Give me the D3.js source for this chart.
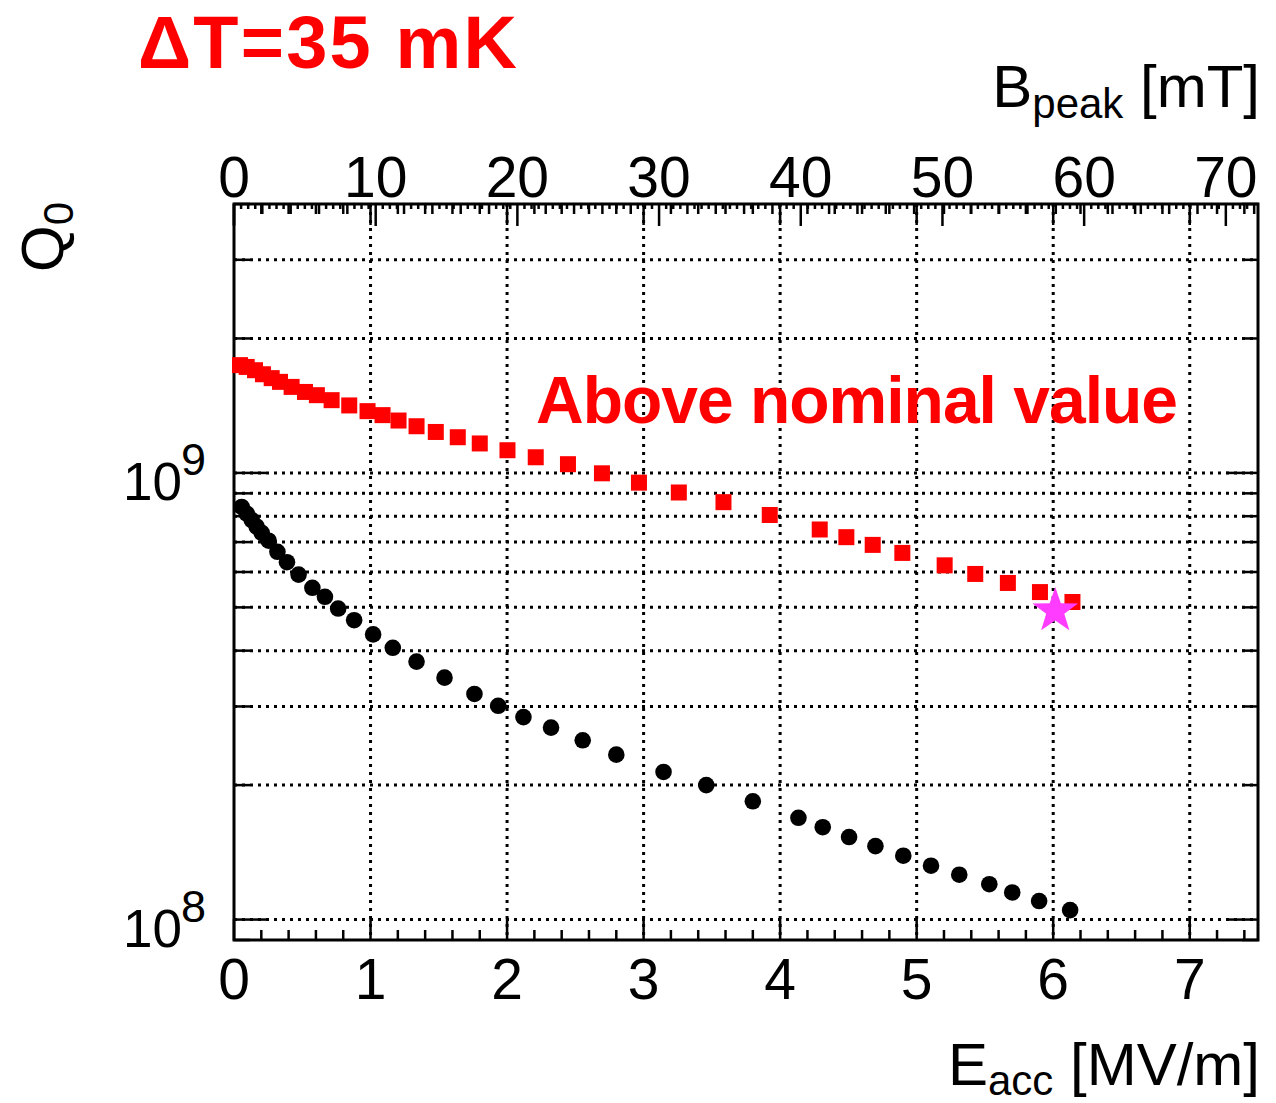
<!DOCTYPE html>
<html>
<head>
<meta charset="utf-8">
<title>Q0 vs Eacc</title>
<script src="https://d3js.org/d3.v7.min.js"></script>
<style>
  body { margin: 0; background: #fff; }
  text { font-family: "Liberation Sans", Arial, Helvetica, sans-serif; }
</style>
</head>
<body>
<div id="chart"></div>
<script>
// ---- data ----
var eaccRed = [0.044, 0.093, 0.154, 0.212, 0.276, 0.337, 0.422, 0.520, 0.607, 0.715,
  0.844, 0.978, 1.088, 1.205, 1.337, 1.478, 1.639, 1.800, 2.003, 2.210,
  2.446, 2.695, 2.966, 3.258, 3.585, 3.924, 4.290, 4.485, 4.678, 4.895,
  5.205, 5.429, 5.668, 5.903, 6.141];
var q0Red = [1.743e9, 1.727e9, 1.698e9, 1.663e9, 1.630e9, 1.599e9, 1.558e9, 1.518e9, 1.493e9, 1.455e9,
  1.416e9, 1.375e9, 1.347e9, 1.310e9, 1.272e9, 1.235e9, 1.202e9, 1.164e9, 1.124e9, 1.084e9,
  1.046e9, 0.998e9, 9.51e8, 9.04e8, 8.60e8, 8.05e8, 7.47e8, 7.18e8, 6.90e8, 6.62e8,
  6.21e8, 5.94e8, 5.67e8, 5.41e8, 5.14e8];

var eaccBlack = [0.056, 0.093, 0.130, 0.166, 0.203, 0.254, 0.318, 0.388, 0.473, 0.574,
  0.666, 0.763, 0.880, 1.019, 1.163, 1.337, 1.542, 1.761, 1.935, 2.120,
  2.322, 2.554, 2.800, 3.146, 3.459, 3.800, 4.134, 4.312, 4.505, 4.698,
  4.902, 5.105, 5.312, 5.532, 5.700, 5.897, 6.124];
var q0Black = [8.39e8, 8.11e8, 7.84e8, 7.58e8, 7.34e8, 7.05e8, 6.66e8, 6.31e8, 5.92e8, 5.53e8,
  5.28e8, 4.97e8, 4.68e8, 4.35e8, 4.06e8, 3.78e8, 3.48e8, 3.20e8, 3.01e8, 2.84e8,
  2.69e8, 2.52e8, 2.34e8, 2.14e8, 2.00e8, 1.84e8, 1.69e8, 1.61e8, 1.53e8, 1.46e8,
  1.39e8, 1.32e8, 1.26e8, 1.20e8, 1.15e8, 1.10e8, 1.05e8];

var starEacc = [6.015];
var starQ0 = [4.91e8];

var xTicks = [0, 1, 2, 3, 4, 5, 6, 7];
var bTicks = [0, 10, 20, 30, 40, 50, 60, 70];
var yDecades = [1e8, 1e9];
var yGrid = [1e8, 2e8, 3e8, 4e8, 5e8, 6e8, 7e8, 8e8, 9e8, 1e9, 2e9, 3e9];

// ---- setup ----
var W = 1276, H = 1103;
var frame = {left: 234, right: 1258, top: 204, bottom: 940};

var svg = d3.select("#chart").append("svg")
    .attr("width", W)
    .attr("height", H);
svg.append("rect").attr("width", W).attr("height", H).attr("fill", "white");

var x = d3.scaleLinear().domain([0, 7.5]).range([frame.left, frame.right]);
// Bpeak axis on top (mT), its own scale
var xB = d3.scaleLinear().domain([0, 72.27]).range([frame.left, frame.right]);
var y = d3.scaleLog().domain([9e7, 4e9]).range([frame.bottom, frame.top]);

// grid
var grid = svg.append("g")
    .attr("stroke", "black")
    .attr("stroke-width", 3)
    .attr("stroke-dasharray", "3,5");
grid.selectAll(".vg").data(xTicks.filter(function(d){ return d > 0; })).enter()
  .append("line")
    .attr("x1", function(d){ return x(d); }).attr("x2", function(d){ return x(d); })
    .attr("y1", frame.top).attr("y2", frame.bottom);
grid.selectAll(".hg").data(yGrid).enter()
  .append("line")
    .attr("x1", frame.left).attr("x2", frame.right)
    .attr("y1", function(d){ return y(d); }).attr("y2", function(d){ return y(d); });

// ticks
var ticks = svg.append("g").attr("stroke", "black").attr("stroke-width", 2.5);
var xMinor = d3.range(0, 7.51, 0.2);
xMinor.forEach(function(v) {
  var major = Math.abs(v - Math.round(v)) < 1e-6;
  var len = major ? 21 : 10;
  ticks.append("line").attr("x1", x(v)).attr("x2", x(v))
    .attr("y1", frame.bottom).attr("y2", frame.bottom - len);
  ticks.append("line").attr("x1", x(v)).attr("x2", x(v))
    .attr("y1", frame.top).attr("y2", frame.top + len);
});
d3.range(0, 72.3, 0.5).forEach(function(v) {
  var len = (v % 10 === 0) ? 22 : (v % 2 === 0 ? 10 : 5);
  ticks.append("line").attr("x1", xB(v)).attr("x2", xB(v))
    .attr("y1", frame.top).attr("y2", frame.top + len);
});
var yTickVals = [];
[1e7, 1e8, 1e9].forEach(function(dec) {
  for (var k = 1; k < 10; k++) yTickVals.push(k * dec);
});
yTickVals.filter(function(v){ return v >= 9e7 && v <= 4e9; }).forEach(function(v) {
  var major = yDecades.indexOf(v) >= 0;
  var len = major ? 32 : 16;
  ticks.append("line").attr("x1", frame.left).attr("x2", frame.left + len)
    .attr("y1", y(v)).attr("y2", y(v));
  ticks.append("line").attr("x1", frame.right).attr("x2", frame.right - len)
    .attr("y1", y(v)).attr("y2", y(v));
});

// frame
svg.append("rect")
    .attr("x", frame.left).attr("y", frame.top)
    .attr("width", frame.right - frame.left).attr("height", frame.bottom - frame.top)
    .attr("fill", "none").attr("stroke", "black").attr("stroke-width", 3);

// tick labels
svg.append("g").selectAll("text").data(xTicks).enter()
  .append("text")
    .attr("x", function(d){ return x(d); })
    .attr("y", 999)
    .attr("text-anchor", "middle")
    .attr("font-size", 57)
    .text(function(d){ return d; });
svg.append("g").selectAll("text").data(bTicks).enter()
  .append("text")
    .attr("x", function(d){ return xB(d); })
    .attr("y", 197)
    .attr("text-anchor", "middle")
    .attr("font-size", 57)
    .text(function(d){ return d; });
yDecades.forEach(function(v) {
  svg.append("text")
    .attr("x", 182).attr("y", y(v) + 27)
    .attr("text-anchor", "end").attr("font-size", 53).text("10");
  svg.append("text")
    .attr("x", 181).attr("y", y(v) + 2)
    .attr("font-size", 45).text(Math.round(Math.log10(v)));
});

// axis titles
var ex = svg.append("text").attr("x", 1260).attr("y", 1085)
    .attr("text-anchor", "end").attr("font-size", 60);
ex.append("tspan").text("E");
ex.append("tspan").attr("font-size", 42).attr("dy", 10).text("acc");
ex.append("tspan").attr("dy", -10).text(" [MV/m]");

var bx = svg.append("text").attr("x", 1260).attr("y", 107)
    .attr("text-anchor", "end").attr("font-size", 60);
bx.append("tspan").text("B");
bx.append("tspan").attr("font-size", 42).attr("dy", 11).text("peak");
bx.append("tspan").attr("dy", -11).text(" [mT]");

var qy = svg.append("text")
    .attr("transform", "translate(63,272) rotate(-90)")
    .attr("font-size", 60);
qy.append("tspan").text("Q");
qy.append("tspan").attr("font-size", 42).attr("dy", 10).text("0");

// data points
var black = eaccBlack.map(function(e, i){ return {e: e, q: q0Black[i]}; });
svg.append("g").selectAll("circle").data(black).enter()
  .append("circle")
    .attr("cx", function(d){ return x(d.e); })
    .attr("cy", function(d){ return y(d.q); })
    .attr("r", 8.3)
    .attr("fill", "black");

var red = eaccRed.map(function(e, i){ return {e: e, q: q0Red[i]}; });
svg.append("g").selectAll("rect").data(red).enter()
  .append("rect")
    .attr("x", function(d){ return x(d.e) - 8; })
    .attr("y", function(d){ return y(d.q) - 8; })
    .attr("width", 16).attr("height", 16)
    .attr("fill", "#ff0000");

function starPath(R, r) {
  var pts = [];
  for (var i = 0; i < 10; i++) {
    var rad = (i % 2 === 0) ? R : r;
    var a = -Math.PI / 2 + i * Math.PI / 5;
    pts.push([rad * Math.cos(a), rad * Math.sin(a)]);
  }
  return "M" + pts.map(function(p){ return p[0].toFixed(2) + "," + p[1].toFixed(2); }).join("L") + "Z";
}
svg.append("g").selectAll("path").data(starEacc).enter()
  .append("path")
    .attr("d", starPath(24, 9.5))
    .attr("transform", function(d, i){ return "translate(" + x(d) + "," + y(starQ0[i]) + ")"; })
    .attr("fill", "#ff3cff");

// labels
svg.append("text")
    .attr("x", 138).attr("y", 68)
    .attr("font-size", 74).attr("font-weight", "bold")
    .attr("fill", "#ff0000")
    .attr("textLength", 379).attr("lengthAdjust", "spacing")
    .text("\u0394T=35 mK");

svg.append("text")
    .attr("x", 536).attr("y", 423)
    .attr("font-size", 66).attr("font-weight", "bold")
    .attr("fill", "#ff0000")
    .attr("textLength", 642).attr("lengthAdjust", "spacing")
    .text("Above nominal value");
</script>
</body>
</html>
